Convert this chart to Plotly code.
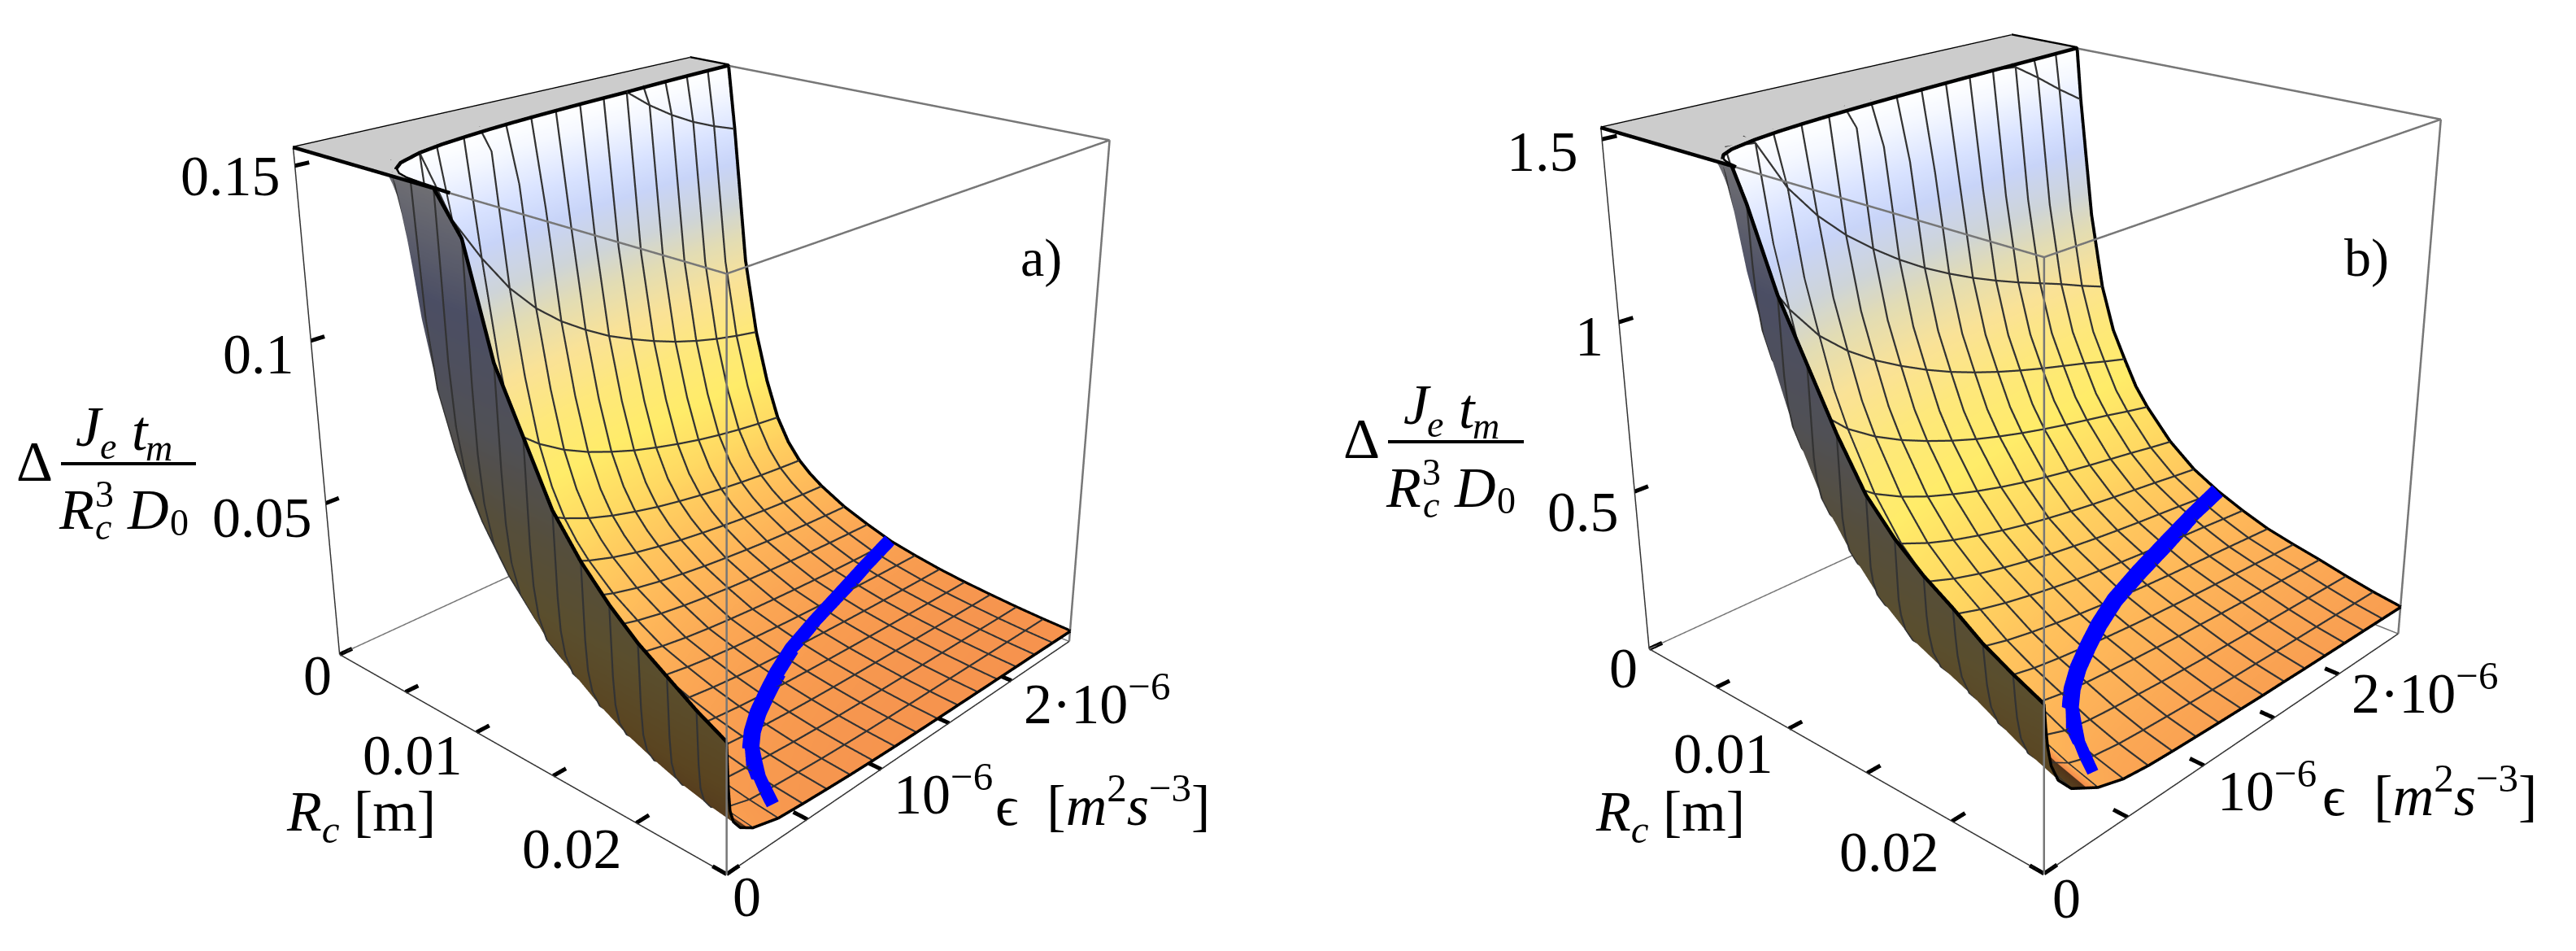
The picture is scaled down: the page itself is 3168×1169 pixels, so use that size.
import numpy as np
import plotly.graph_objects as go

# ---------- data ----------
RC_RANGE = [0, 25]          # Rc in mm (axis labelled in m)
EPS_RANGE = [0, 2.5]        # epsilon in 1e-6 m^2 s^-3
EPS = [0, .01, .02, .04, .08, .15625, .3125, .46875, .625, .78125, .9375, 1.09375, 1.25,
       1.40625, 1.5625, 1.71875, 1.875, 2.03125, 2.1875, 2.34375, 2.5]
MESH_RC = [3.125, 4.6875, 6.25, 7.8125, 9.375, 10.9375, 12.5, 14.0625, 15.625, 17.1875,
           18.75, 20.3125, 21.875, 23.4375, 25]
FAR_WEIGHT = [0]*15 + [.1, .3, .5, .7, .85, 1]

Z_TOP_A = 0.155
RC_A = [0, 2.7, 3.125, 3.9, 4.6875, 5.47, 6.25, 7.03, 7.8125, 8.6, 9.375, 10.9375, 12.5, 14.0625,
        15.625, 17.1875, 18.75, 20.3125, 21.875, 23.4375, 25]
LEVEL_A = [4000, 1950, 1690, 1150, 850, 650, 500, 405, 340, 295, 260, 205, 165, 130, 108, 88, 72, 60, 50, 43, 38]
EDGE0_A = [4000, 4000, 4000, 4000, 4000, 3500, 3000, 2500, 2000, 1500, 1150, 930, 735, 625, 515, 445, 390, 345, 310, 275, 246]
NEAR_A = [4.5, 3.3, 2.7, 2.25, 1.85, 1.49, 1.18, 1.02, .92, .835, .77, .72, .68, .645, .617, .592, .57, .552, .537, .525, .515]
FAR_A = [6.5, 4.2, 3.05, 2.4, 1.9, 1.47, 1.1, 1.0, .92, .85, .80, .76, .735, .715, .70, .685, .67, .655, .64, .62, .605]

Z_TOP_B = 1.53
RC_B = [0, 3.125, 3.9, 4.43, 4.6875, 5.47, 6.25, 7.03, 7.8125, 8.6, 9.375, 10.9375, 12.5, 14.0625,
        15.625, 17.1875, 18.75, 20.3125, 21.875, 23.4375, 25]
LEVEL_B = [4000, 3000, 2200, 1724, 1550, 1150, 896, 745, 650, 560, 497, 395, 322, 272, 233, 195, 165, 140, 115, 95, 80]
EDGE0_B = [4000, 4000, 4000, 4000, 4000, 3000, 2500, 2000, 1600, 1030, 945, 810, 710, 610, 525, 470, 428, 395, 358, 330, 305]
NEAR_B = [2.3, 1.7, 1.58, 1.47, 1.36, 1.24, 1.11, 1.01, .94, .885, .84, .8, .765, .735, .708, .684, .662, .642, .622, .6, .58]
FAR_B = [3.8, 3.25, 2.83, 2.36, 1.94, 1.56, 1.19, 1.0, .925, .89, .865, .84, .82, .80, .79, .775, .765, .755, .745, .735, .725]

BLUE_RC = [14.06, 14.8, 15.6, 16.4, 17.2, 18, 18.75, 19.5, 20.3, 21, 21.9, 22.6, 23.4, 24.2]
BLUE_EPS = [2.5, 2.2, 1.9, 1.6, 1.33, 1.13, .97, .82, .69, .6, .52, .46, .41, .36]

RC_TICKS = [0, 5, 10, 15, 20, 25]
EPS_TICKS = [0, .5, 1, 1.5, 2]
Z_TICKS_A = [0, .05, .1, .15]
Z_TICKS_B = [0, .5, 1, 1.5]

TOP_STOPS = [(0, (243, 140, 76)), (.05, (248, 155, 80)), (.1, (252, 172, 86)), (.16, (255, 192, 92)),
             (.25, (255, 216, 98)), (.35, (255, 236, 105)), (.45, (254, 232, 122)), (.55, (250, 226, 150)),
             (.65, (226, 220, 180)), (.72, (206, 212, 216)), (.8, (200, 212, 248)), (.87, (216, 226, 255)),
             (.95, (245, 248, 255)), (1, (255, 255, 255))]
UNDER_STOPS = [(-1, (110, 110, 115)), (-.8, (75, 78, 100)), (-.6, (80, 80, 85)), (-.45, (85, 78, 60)),
               (-.3, (90, 78, 45)), (-.15, (90, 68, 32)), (-.001, (80, 50, 25))]
COLORSCALE = [[(v + 1) / 2, f'rgb{c}'] for v, c in UNDER_STOPS] + [[(v + 1) / 2, f'rgb{c}'] for v, c in TOP_STOPS]

FONT = 'Liberation Serif'
SIZE = 70
SMALL = 46
OFFSET = 476
W, H = 3168, 1917
EYE_DIR = np.array([2.1, -2.25, 1.3])
MARGIN = 1.016      # axis ranges run a little past the box so that nothing at its faces is cut off


def build(rc, level, edge0, near, far):
    near, far = np.array(near), np.array(far)
    rows = []
    for i in range(len(rc)):
        r = ((1 - FAR_WEIGHT[i]) * near + FAR_WEIGHT[i] * far) * level[i]
        r[0] = edge0[i]
        rows.append(r)
    return np.array(rows)


def lift(x, y, z, top, amount=.003):
    return (np.asarray(x) + amount * 25 * .6, np.asarray(y) - amount * 2.5 * .65,
            np.asarray(z) + amount * top * .38)


def masked(z, top):
    z = np.array(z, float)
    c = z >= top * .9999
    keep = c.copy()
    keep[1:-1] = c[1:-1] & c[:-2] & c[2:]
    keep[0] = c[0] & c[1]
    keep[-1] = c[-1] & c[-2]
    z[keep] = np.nan
    return z


def line(x, y, z, color, width):
    return go.Scatter3d(x=x, y=y, z=z, mode='lines', line=dict(color=color, width=width),
                        hoverinfo='skip', showlegend=False)


def sample(Z, rc, r, e):
    col = np.array([np.interp(e, EPS, Z[i]) for i in range(len(rc))])
    return float(np.interp(r, rc, col))


def panel(scene, rc, raw, top, zticks):
    rc = np.array(rc)
    eps = np.array(EPS)
    tr = []
    Z = np.minimum(raw / 1000 * top, top)
    zn = Z / top
    dzdx = np.gradient(raw / 1000, rc / 25, axis=0)
    dzdy = np.gradient(raw / 1000, eps / 2.5, axis=1)
    facing = -EYE_DIR[0] * dzdx - EYE_DIR[1] * dzdy + EYE_DIR[2]
    color = np.where(facing < .15, -zn, zn)
    tr.append(go.Surface(x=rc, y=eps, z=Z.T, surfacecolor=color.T, cmin=-1, cmax=1, colorscale=COLORSCALE,
                         showscale=False, hoverinfo='skip',
                         lighting=dict(ambient=1, diffuse=0, specular=0, roughness=1, fresnel=0),
                         contours=dict(x=dict(highlight=False), y=dict(highlight=False), z=dict(highlight=False))))
    # clipped flat top
    lr = np.log(rc[1:][::-1])
    clip = np.array([np.exp(np.interp(np.log(1000.), np.log(raw[1:, j][::-1]), lr)) for j in range(len(eps))])
    n = len(eps)
    cx = np.r_[clip, np.zeros(n)]
    cy = np.r_[eps, eps]
    cz = np.full(2 * n, top * 1.001)
    i, j, k = [], [], []
    for m in range(n - 1):
        i += [m, m + 1]
        j += [m + 1, n + m + 1]
        k += [n + m, n + m]
    tr.append(go.Mesh3d(x=cx, y=cy, z=cz, i=i, j=j, k=k, color='#cccccc', flatshading=True,
                        lighting=dict(ambient=1, diffuse=0, specular=0, roughness=1, fresnel=0),
                        hoverinfo='skip'))
    # mesh lines
    for m in MESH_RC[:-1]:
        a = int(np.argmin(abs(rc - m)))
        x, y, z = lift(np.full(n, rc[a]), eps, masked(Z[a], top), top)
        tr.append(line(x, y, z, '#333333', 4.5))
    for b in range(5, n - 1):
        x, y, z = lift(rc, np.full(len(rc), eps[b]), masked(Z[:, b], top), top)
        tr.append(line(x, y, z, '#333333', 4.5))
    # black boundaries
    tr.append(line(*lift(rc, np.zeros(len(rc)), Z[:, 0], top), 'black', 9))
    tr.append(line(*lift(rc, np.full(len(rc), 2.5), Z[:, -1], top), 'black', 9))
    tr.append(line(*lift(np.full(n, 25), eps, Z[-1], top), 'black', 7))
    tr.append(line(*lift(np.zeros(n), eps, Z[0], top), 'black', 5))
    tr.append(line(*lift(clip, eps, np.full(n, top), top), 'black', 9))
    # blue curve
    bz = np.array([sample(Z, rc, r, e) for r, e in zip(BLUE_RC, BLUE_EPS)])
    bz[1:-1] = (bz[:-2] + bz[1:-1] + bz[2:]) / 3
    tr.append(line(*lift(BLUE_RC, BLUE_EPS, bz, top, .01), '#0000ff', 42))
    # box
    x0, x1 = RC_RANGE
    y0, y1 = EPS_RANGE
    gray = '#777777'
    dark = '#333333'
    edges = [((x0, y0, 0), (x1, y0, 0), dark, 3), ((x1, y0, 0), (x1, y1, 0), dark, 3), ((x0, y0, 0), (x0, y0, top), dark, 3),
             ((x1, y1, 0), (x0, y1, 0), gray, 3), ((x0, y1, 0), (x0, y0, 0), gray, 3),
             ((x0, y0, top), (x1, y0, top), gray, 5), ((x1, y0, top), (x1, y1, top), gray, 5),
             ((x1, y1, top), (x0, y1, top), gray, 5), ((x0, y1, top), (x0, y0, top), gray, 5),
             ((x1, y1, 0), (x1, y1, top), gray, 5), ((x0, y1, 0), (x0, y1, top), gray, 3)]
    for p, q, c, w in edges:
        tr.append(line([p[0], q[0]], [p[1], q[1]], [p[2], q[2]], c, w))
    # the front vertical edge is nudged towards the viewer so that it stays in front of the wall
    tr.append(line(*lift([x1, x1], [y0, y0], [0, top], top, .004), gray, 5))
    # ticks
    for v in RC_TICKS:
        tr.append(line([v, v], [0, .03 * y1], [0, 0], 'black', 10))
    for v in EPS_TICKS:
        tr.append(line([x1, x1 - .03 * x1], [v, v], [0, 0], 'black', 10))
    for v in zticks:
        tr.append(line([0, 0], [0, .03 * y1], [v, v], 'black', 10))
    for t in tr:
        t.scene = scene
    return tr


def scene_layout(dom_x, dom_y, aspect, eye, center, top, ann):
    ax = dict(visible=False, showgrid=False, zeroline=False, showspikes=False, showbackground=False, autorange=False)
    pad = (MARGIN - 1) / 2
    rng = lambda lo, hi: [lo - pad * (hi - lo), hi + pad * (hi - lo)]
    return dict(domain=dict(x=dom_x, y=dom_y),
                xaxis=dict(ax, range=rng(*RC_RANGE)), yaxis=dict(ax, range=rng(*EPS_RANGE)), zaxis=dict(ax, range=rng(0, top)),
                aspectmode='manual', aspectratio=dict(x=aspect[0] * MARGIN, y=aspect[1] * MARGIN, z=aspect[2] * MARGIN),
                camera=dict(eye=dict(x=eye[0], y=eye[1], z=eye[2]), center=dict(x=center[0], y=center[1], z=center[2]),
                            up=dict(x=0, y=0, z=1), projection=dict(type='perspective')),
                annotations=ann, bgcolor='white')


def lab(x, y, z, text, sx, sy):
    return dict(x=x, y=y, z=z, text=text, showarrow=False, xshift=sx, yshift=-sy, xanchor='center', yanchor='middle',
                font=dict(family=FONT, size=SIZE, color='black'))


ann_a = [lab(0, 0, 0, '0', -27, 26), lab(10, 0, 0, '0.01', -79, 28), lab(20, 0, 0, '0.02', -79, 32),
         lab(25, 0, 0, '0', 25, 28), lab(25, 1, 0, '10<sup>−6</sup>', 76, 26), lab(25, 2, 0, '2·10<sup>−6</sup>', 105, 23),
         lab(0, 0, .05, '0.05', -78, 18), lab(0, 0, .1, '0.1', -64, 17), lab(0, 0, .15, '0.15', -79, 13)]
ann_b = [lab(0, 0, 0, '0', -31, 24), lab(10, 0, 0, '0.01', -80, 31), lab(20, 0, 0, '0.02', -77, 38),
         lab(25, 0, 0, '0', 28, 31), lab(25, 1, 0, '10<sup>−6</sup>', 78, 26), lab(25, 2, 0, '2·10<sup>−6</sup>', 106, 18),
         lab(0, 0, .5, '0.5', -63, 25), lab(0, 0, 1, '1', -36, 17), lab(0, 0, 1.5, '1.5', -73, 15)]

RAW_A = build(RC_A, LEVEL_A, EDGE0_A, NEAR_A, FAR_A)
RAW_B = build(RC_B, LEVEL_B, EDGE0_B, NEAR_B, FAR_B)

fig = go.Figure()
fig.add_traces(panel('scene', RC_A, RAW_A, Z_TOP_A, Z_TICKS_A))
fig.add_traces(panel('scene2', RC_B, RAW_B, Z_TOP_B, Z_TICKS_B))


def paper(x, y, text, size=SIZE):
    return dict(xref='paper', yref='paper', x=x / W, y=1 - (y + OFFSET) / H, text=text, showarrow=False,
                xanchor='center', yanchor='middle', font=dict(family=FONT, size=size, color='black'))


RC_TITLE = '<i>R</i><sub><i>c</i></sub> [m]'
EPS_TITLE = 'ϵ  [<i>m</i><sup>2</sup><i>s</i><sup>−3</sup>]'
FRACTION_PIECES = [(42, 567, 'Δ', SIZE), (110, 525, '<i>J</i>', SIZE), (133, 548, '<i>e</i>', SMALL),
                   (172, 530, '<i>t</i>', SIZE), (195, 550, '<i>m</i>', SMALL), (94, 626, '<i>R</i>', SIZE),
                   (128, 607, '3', SMALL), (127, 647, '<i>c</i>', SMALL), (182, 626, '<i>D</i>', SIZE), (220, 642, '0', SMALL)]
annotations = [paper(444, 1003, RC_TITLE), paper(1356, 985, EPS_TITLE), paper(1280, 317, 'a)', 66),
               paper(2054, 1003, RC_TITLE), paper(2988, 973, EPS_TITLE), paper(2910, 317, 'b)', 66)]
for x, y, t, s in FRACTION_PIECES:
    annotations.append(paper(x, y, t, s))
    annotations.append(paper(x + 1632.5, y - 27, t, s))
shapes = [dict(type='line', xref='paper', yref='paper', x0=x0 / W, x1=x1 / W, y0=1 - (y + OFFSET) / H, y1=1 - (y + OFFSET) / H,
               line=dict(color='black', width=4)) for x0, x1, y in ((75, 241, 570), (1707, 1874, 543))]

fig.update_layout(
    width=W, height=H, margin=dict(l=0, r=0, t=0, b=0, pad=0), paper_bgcolor='white', showlegend=False,
    annotations=annotations, shapes=shapes,
    scene=scene_layout([0, 1788 / W], [1 - 1895 / H, 1 - 23 / H], (1, .981, .99), (2.106, -2.247, 1.293),
                       (.036, .018, .038), Z_TOP_A, ann_a),
    scene2=scene_layout([1858.8 / W, 1], [0, 1], (1, .993, .995), (2.110, -2.253, 1.295),
                        (.037, .008, .017), Z_TOP_B, ann_b),
)
post = ("var d=document.getElementById('{plot_id}');d.style.position='absolute';d.style.left='0';"
        "d.style.top='-%dpx';document.body.style.margin='0';document.documentElement.style.overflow='hidden';"
        "document.body.style.overflow='hidden';" % OFFSET)
fig.write_html('out.html', post_script=post, default_width=f'{W}px', default_height=f'{H}px',
               config=dict(displayModeBar=False, responsive=False))
